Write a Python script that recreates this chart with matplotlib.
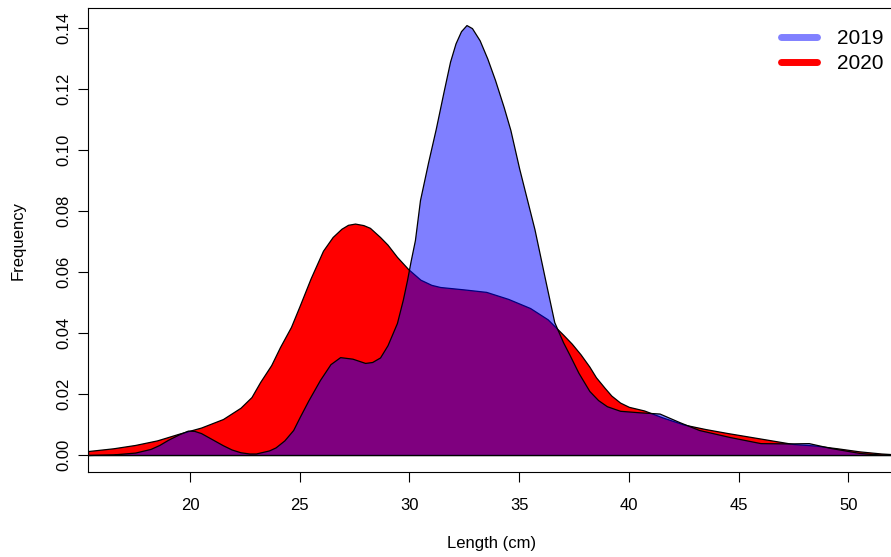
import numpy as np
import matplotlib
matplotlib.use("Agg")
import matplotlib.pyplot as plt
from matplotlib.lines import Line2D

plt.rcParams['font.family'] = ['Liberation Sans', 'DejaVu Sans']

# 2020 density (red)
len_2020 = [15.35, 16.5, 17.5, 18.5, 19.5, 20.5, 21.5, 22.3, 22.8, 23.2, 23.7, 24.1,
            24.6, 25.0, 25.5, 26.06, 26.5, 26.9, 27.2, 27.52, 27.9, 28.2, 28.66,
            29.0, 29.43, 29.94, 30.5, 31.0, 31.4, 32.5, 33.5, 34.5, 35.5, 36.3,
            37.0, 37.4, 37.8, 38.2, 38.5, 38.9, 39.2, 39.6, 40.0, 40.7, 41.5,
            42.5, 43.5, 44.5, 45.5, 46.5, 47.5, 48.5, 49.5, 50.5, 51.5, 52.2]
freq_2020 = [0.0013, 0.0022, 0.0033, 0.0048, 0.0070, 0.0090, 0.0118, 0.0155, 0.0190,
             0.0240, 0.0295, 0.0354, 0.0420, 0.0490, 0.0580, 0.0670, 0.0715, 0.0742,
             0.0755, 0.0759, 0.0754, 0.0745, 0.0715, 0.0690, 0.0650, 0.0610, 0.0575,
             0.0558, 0.0551, 0.0543, 0.0535, 0.0512, 0.0482, 0.0445, 0.0395, 0.0365,
             0.0330, 0.0290, 0.0255, 0.0220, 0.0195, 0.0172, 0.0158, 0.0146, 0.0124,
             0.0100, 0.0085, 0.0072, 0.0060, 0.0048, 0.0036, 0.0031, 0.0022, 0.0012,
             0.0005, 0.0002]

# 2019 density (blue)
len_2019 = [15.35, 16.5, 17.5, 18.2, 18.6, 19.0, 19.5, 19.9, 20.2, 20.5, 21.1, 21.5,
            21.9, 22.3, 22.7, 23.0, 23.3, 23.6, 23.9, 24.3, 24.7, 25.0, 25.4, 25.92,
            26.4, 26.84, 27.4, 27.98, 28.3, 28.66, 29.0, 29.43, 29.7, 29.89, 30.05,
            30.25, 30.48, 30.85, 31.2, 31.55, 31.85, 32.1, 32.35, 32.6, 32.85, 33.2,
            33.55, 33.9, 34.3, 34.6, 35.0, 35.35, 35.7, 36.2, 36.6, 37.0, 37.3, 37.7,
            38.2, 38.6, 39.0, 39.6, 40.5, 41.4, 42.3, 43.2, 44.6, 46.0, 47.3, 48.2,
            49.2, 50.5, 51.5, 52.2]
freq_2019 = [0.0, 0.0002, 0.0008, 0.0020, 0.0033, 0.0050, 0.0068, 0.0080, 0.0079,
             0.0072, 0.0048, 0.0032, 0.0018, 0.0009, 0.0005, 0.0005, 0.0010, 0.0015,
             0.0025, 0.0048, 0.0082, 0.0125, 0.0180, 0.0246, 0.0298, 0.0321, 0.0316,
             0.0302, 0.0305, 0.0320, 0.0360, 0.0433, 0.0510, 0.0574, 0.0635, 0.0705,
             0.0836, 0.0960, 0.1070, 0.1190, 0.1290, 0.1350, 0.1390, 0.1410, 0.1400,
             0.1360, 0.1300, 0.1230, 0.1140, 0.1066, 0.0940, 0.0840, 0.0740, 0.0570,
             0.0436, 0.0370, 0.0328, 0.0270, 0.0210, 0.0180, 0.0160, 0.0145, 0.0140,
             0.0136, 0.0108, 0.0082, 0.0059, 0.0039, 0.0038, 0.0039, 0.0023, 0.0007,
             0.0001, 0.0]

fig = plt.figure(figsize=(8.91, 5.57), dpi=100)
ax = fig.add_axes([88/891, 85/557, 807/891, 464/557])

ax.fill_between(len_2020, freq_2020, 0, facecolor="red", edgecolor="black", linewidth=0.9)
ax.fill_between(len_2019, freq_2019, 0, facecolor=(0, 0, 1, 0.5), edgecolor="black", linewidth=0.9)

ax.set_xlim(15.35, 52.13)
ax.set_ylim(-0.00557, 0.1466)
ax.set_xticks([20, 25, 30, 35, 40, 45, 50])
ax.set_yticks(np.arange(0, 0.141, 0.02))
ax.set_yticklabels(["%.2f" % v for v in np.arange(0, 0.141, 0.02)], rotation=90, va="center")
ax.tick_params(direction="out", length=7, width=0.8, labelsize=12, pad=5)
ax.tick_params(axis="x", pad=12)
for s in ax.spines.values():
    s.set_linewidth(0.8)

ax.set_xlabel("Length (cm)", fontsize=12, labelpad=16)
ax.set_ylabel("Frequency", fontsize=12, labelpad=22)

handles = [Line2D([], [], color="#8080FF", lw=5, solid_capstyle="round"),
           Line2D([], [], color="red", lw=5, solid_capstyle="round")]
fig.legend(handles, ["2019", "2020"], loc="upper left",
           bbox_to_anchor=(781/891, 1 - 29/557), bbox_transform=fig.transFigure,
           frameon=False, fontsize=15, handlelength=1.75, handletextpad=0.95,
           labelspacing=0.3, borderaxespad=0, borderpad=0)

fig.savefig("out.png", dpi=100)
